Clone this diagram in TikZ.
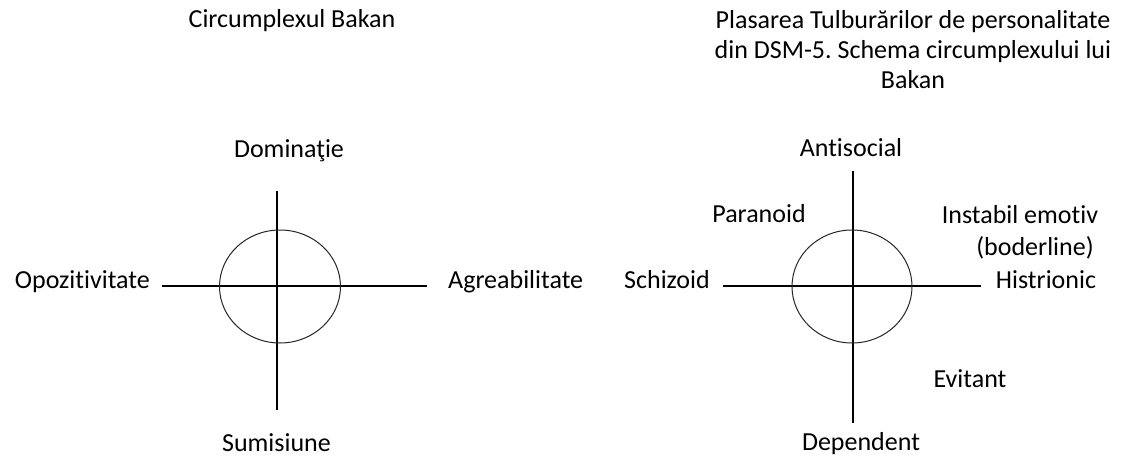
\documentclass[tikz,border=0pt]{standalone}
\usepackage{fontspec}
\setmainfont{Carlito}[Ligatures=NoCommon]
\frenchspacing
\tikzset{
  lbl/.style={inner sep=0pt, font=\fontsize{26}{30}\selectfont},
  axisline/.style={line width=1.2pt, draw=black},
  ring/.style={line width=1pt, draw=black!85}
}
\begin{document}
\begin{tikzpicture}[x=1pt,y=-1pt]
\useasboundingbox (0,0) rectangle (1126,457);
% ---------- left diagram ----------
\node[lbl, anchor=base] (t1) at (292,28) {Circumplexul Bakan};
\node[lbl, anchor=base] (dom) at (289,157.5) {Dominaţie};
\node[lbl, anchor=base east] (opo) at (150,288) {Opozitivitate};
\node[lbl, anchor=base west] (agr) at (448,288.5) {Agreabilitate};
\node[lbl, anchor=base] (sum) at (276.5,451) {Sumisiune};
\coordinate (lT) at (277,191);
\coordinate (lB) at (277,410);
\coordinate (lL) at (162,286);
\coordinate (lR) at (427,286);
\coordinate (lC) at (280,286.5);
\draw[axisline] (lT) -- (lB);
\draw[axisline] (lL) -- (lR);
\draw[ring] (lC) ellipse [x radius=60.5pt, y radius=56.5pt];
% ---------- right diagram ----------
\node[lbl, align=center, anchor=base] (t2) at (913,88.5) {Plasarea Tulburărilor de personalitate\\din DSM-5. Schema circumplexului lui\\Bakan};
\node[lbl, anchor=base] (ant) at (851,157) {Antisocial};
\node[lbl, anchor=base] (par) at (759,222.5) {Paranoid};
\node[lbl, anchor=base east] (sch) at (710,288) {Schizoid};
\node[lbl, anchor=base] (ins) at (1020,223) {Instabil emotiv};
\node[lbl, anchor=base] (bod) at (1035,255) {(boderline)};
\node[lbl, anchor=base] (his) at (1046,288) {Histrionic};
\node[lbl, anchor=base] (evi) at (970,387) {Evitant};
\node[lbl, anchor=base] (dep) at (861,450) {Dependent};
\coordinate (rT) at (853,171);
\coordinate (rB) at (853,423);
\coordinate (rL) at (723,286);
\coordinate (rR) at (981,286);
\coordinate (rC) at (852,286.5);
\draw[axisline] (rT) -- (rB);
\draw[axisline] (rL) -- (rR);
\draw[ring] (rC) ellipse [x radius=60pt, y radius=56.5pt];
\end{tikzpicture}
\end{document}
